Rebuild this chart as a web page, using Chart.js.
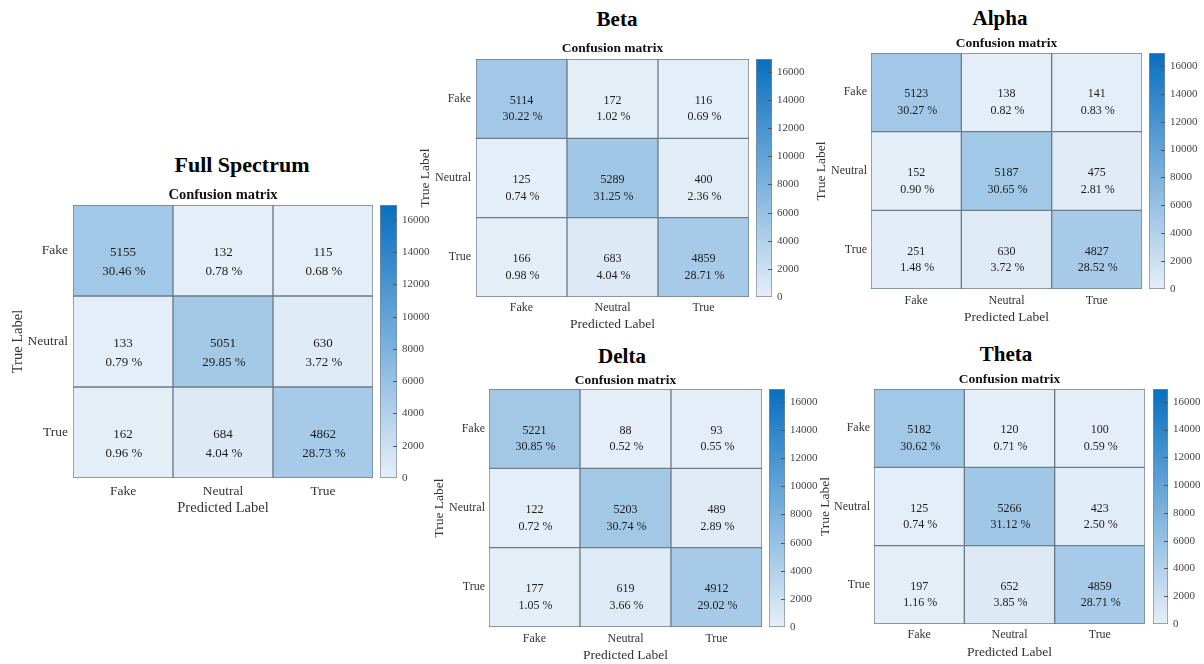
<!DOCTYPE html>
<html>
<head>
<meta charset="utf-8">
<script src="https://cdn.jsdelivr.net/npm/chart.js@4.4.1/dist/chart.umd.min.js"></script>
<style>
  body { margin: 0; background: #fff; }
  #page { position: relative; width: 1204px; height: 664px; overflow: hidden; }
  #page canvas { position: absolute; }
  .panel-title {
    position: absolute;
    font: bold 22px/26px "Liberation Serif", serif;
    color: #000;
    transform: translate(-50%, -50%);
    white-space: nowrap;
  }
</style>
</head>
<body>
<div id="page"></div>
<script>
// class names on both axes
const predictedLabels = ['Fake', 'Neutral', 'True'];
const trueLabels = ['Fake', 'Neutral', 'True'];

// counts, rows = true label, columns = predicted label
const fullSpectrum = [[5155, 132, 115], [133, 5051, 630], [162, 684, 4862]];
const beta = [[5114, 172, 116], [125, 5289, 400], [166, 683, 4859]];
const alpha = [[5123, 138, 141], [152, 5187, 475], [251, 630, 4827]];
const delta = [[5221, 88, 93], [122, 5203, 489], [177, 619, 4912]];
const theta = [[5182, 120, 100], [125, 5266, 423], [197, 652, 4859]];

// colorbar tick spacing
const colorbarStep = 2000;

// where each panel sits on the page
const panels = [
    { name: 'Full Spectrum', values: fullSpectrum, box: [73, 205, 373, 478], cb: [380, 397], title: [242, 165], sub: 195, ylab: 18, ytick: 68, xtick: 491, xlab: 508, tickSize: 13.5, cellSize: 13, labSize: 14.5 },
    { name: 'Beta', values: beta, box: [476, 59, 749, 297], cb: [756, 772], title: [617, 19], sub: 49, ylab: 425, ytick: 471, xtick: 308, xlab: 324, tickSize: 12, cellSize: 12, labSize: 13.5 },
    { name: 'Alpha', values: alpha, box: [871, 53, 1142, 289], cb: [1149, 1165], title: [1000, 18], sub: 44, ylab: 821, ytick: 867, xtick: 301, xlab: 317, tickSize: 12, cellSize: 12, labSize: 13.5 },
    { name: 'Delta', values: delta, box: [489, 389, 762, 627], cb: [769, 785], title: [622, 356], sub: 381, ylab: 439, ytick: 485, xtick: 639, xlab: 655, tickSize: 12, cellSize: 12, labSize: 13.5 },
    { name: 'Theta', values: theta, box: [874, 389, 1145, 624], cb: [1153, 1168], title: [1006, 354], sub: 380, ylab: 825, ytick: 870, xtick: 635, xlab: 652, tickSize: 12, cellSize: 12, labSize: 13.5 }
];

const lowColor = [230, 239, 248];
const highColor = [8, 111, 191];

Chart.defaults.font.family = '"Liberation Serif", "Times New Roman", serif';
Chart.defaults.color = '#2b2b2b';

function cellColor(v, max) {
    const t = v / max;
    const c = lowColor.map((lo, i) => Math.round(lo + (highColor[i] - lo) * t));
    return 'rgb(' + c.join(',') + ')';
}

const page = document.getElementById('page');

function addCanvas(left, top, width, height) {
    const canvas = document.createElement('canvas');
    canvas.width = width;
    canvas.height = height;
    canvas.style.left = left + 'px';
    canvas.style.top = top + 'px';
    canvas.style.width = width + 'px';
    canvas.style.height = height + 'px';
    page.appendChild(canvas);
    return canvas;
}

// count + percentage in every cell, and the small "Confusion matrix" heading
const cellText = {
    id: 'cellText',
    afterDatasetsDraw(chart, args, opts) {
        const ctx = chart.ctx;
        ctx.save();
        ctx.fillStyle = '#1c1c1c';
        ctx.textAlign = 'center';
        ctx.textBaseline = 'middle';
        ctx.font = opts.size + 'px "Liberation Serif"';
        chart.data.datasets.forEach((ds, r) => {
            chart.getDatasetMeta(r).data.forEach((bar, c) => {
                const h = Math.abs(bar.base - bar.y);
                const cy = (bar.base + bar.y) / 2;
                const count = ds.counts[c];
                ctx.fillText(String(count), bar.x, cy + 2);
                ctx.fillText((count / opts.total * 100).toFixed(2) + ' %', bar.x + 1, cy + h * 0.21 + 2);
            });
        });
        const a = chart.chartArea;
        ctx.fillStyle = '#111';
        ctx.font = 'bold ' + opts.subSize + 'px "Liberation Serif"';
        ctx.fillText('Confusion matrix', (a.left + a.right) / 2, opts.subY);
        ctx.restore();
    }
};

// small inward tick marks on the colorbar's right edge
const colorbarMarks = {
    id: 'colorbarMarks',
    afterDatasetsDraw(chart) {
        const ctx = chart.ctx;
        const y = chart.scales.y;
        const right = chart.chartArea.right;
        ctx.save();
        ctx.strokeStyle = '#555';
        ctx.lineWidth = 1;
        y.ticks.forEach(t => {
            if (t.value === 0) return;
            const py = Math.round(y.getPixelForValue(t.value)) + 0.5;
            ctx.beginPath();
            ctx.moveTo(right - 4, py);
            ctx.lineTo(right, py);
            ctx.stroke();
        });
        ctx.restore();
    }
};

panels.forEach(p => {
    const [x0, y0, x1, y1] = p.box;
    const total = p.values.flat().reduce((a, b) => a + b, 0);

    // panel heading
    const heading = document.createElement('div');
    heading.className = 'panel-title';
    heading.textContent = p.name;
    heading.style.left = p.title[0] + 'px';
    heading.style.top = p.title[1] + 'px';
    if (p.name !== 'Full Spectrum') heading.style.fontSize = '21px';
    page.appendChild(heading);

    // matrix
    const left = p.ylab - 12;
    const top = p.sub - 12;
    const right = x1 + 2;
    const bottom = p.xlab + 12;
    const yw = x0 - left;
    const xh = bottom - y1;
    const labLine = p.labSize * 1.2;

    const datasets = p.values.map((row, r) => ({
        label: trueLabels[r],
        data: row.map(() => [r, r + 1]),
        counts: row,
        backgroundColor: row.map(v => cellColor(v, total)),
        borderColor: '#6f7b86',
        borderWidth: 1,
        borderSkipped: false,
        barPercentage: 1,
        categoryPercentage: 1,
        grouped: false
    }));

    new Chart(addCanvas(left, top, right - left, bottom - top), {
        type: 'bar',
        data: { labels: predictedLabels, datasets: datasets },
        options: {
            responsive: false,
            animation: false,
            events: [],
            layout: { padding: { top: y0 - top, left: 0, right: 2, bottom: 0 } },
            plugins: {
                legend: { display: false },
                tooltip: { enabled: false },
                cellText: { size: p.cellSize, total: total, subSize: p.labSize, subY: p.sub - top }
            },
            scales: {
                x: {
                    type: 'category',
                    grid: { display: false, drawTicks: false },
                    border: { display: false },
                    ticks: { padding: (p.xtick - y1) - p.tickSize * 0.6, font: { size: p.tickSize }, color: '#333' },
                    title: {
                        display: true, text: 'Predicted Label', color: '#333',
                        font: { size: p.labSize },
                        padding: { top: 0, bottom: (bottom - p.xlab) - labLine / 2 }
                    },
                    afterFit: s => { s.height = xh; }
                },
                y: {
                    type: 'linear',
                    min: 0,
                    max: 3,
                    reverse: true,
                    grid: { display: false, drawTicks: false },
                    border: { display: false },
                    afterBuildTicks: s => { s.ticks = trueLabels.map((_, i) => ({ value: i + 0.5 })); },
                    ticks: {
                        padding: x0 - p.ytick,
                        font: { size: p.tickSize },
                        color: '#333',
                        callback: v => trueLabels[Math.floor(v)]
                    },
                    title: {
                        display: true, text: 'True Label', color: '#333',
                        font: { size: p.labSize },
                        padding: { top: (p.ylab - left) - labLine / 2, bottom: 0 }
                    },
                    afterFit: s => { s.width = yw; }
                }
            }
        },
        plugins: [cellText]
    });

    // colorbar
    const cbW = p.cb[1] - p.cb[0];
    const cbPad = 14;
    new Chart(addCanvas(p.cb[0], y0 - cbPad, cbW + 40, (y1 - y0) + 2 * cbPad), {
        type: 'bar',
        data: {
            labels: [''],
            datasets: [{
                data: [total],
                backgroundColor: ctx => {
                    const area = ctx.chart.chartArea;
                    if (!area) return cellColor(0, total);
                    const g = ctx.chart.ctx.createLinearGradient(0, area.bottom, 0, area.top);
                    g.addColorStop(0, cellColor(0, total));
                    g.addColorStop(1, cellColor(total, total));
                    return g;
                },
                borderColor: '#7d8791',
                borderWidth: 1,
                borderSkipped: false,
                barPercentage: 1,
                categoryPercentage: 1
            }]
        },
        options: {
            responsive: false,
            animation: false,
            events: [],
            layout: { padding: { top: cbPad, bottom: cbPad, left: 0, right: 0 } },
            plugins: { legend: { display: false }, tooltip: { enabled: false } },
            scales: {
                x: { display: false },
                y: {
                    position: 'right',
                    min: 0,
                    max: total,
                    grid: { display: false, drawTicks: false },
                    border: { display: false },
                    afterBuildTicks: s => {
                        const ticks = [];
                        for (let v = 0; v <= total; v += colorbarStep) ticks.push({ value: v });
                        s.ticks = ticks;
                    },
                    ticks: {
                        padding: 5,
                        color: '#444',
                        font: { size: 11 },
                        callback: v => String(v)
                    },
                    afterFit: s => { s.width = 40; }
                }
            }
        },
        plugins: [colorbarMarks]
    });
});
</script>
</body>
</html>
